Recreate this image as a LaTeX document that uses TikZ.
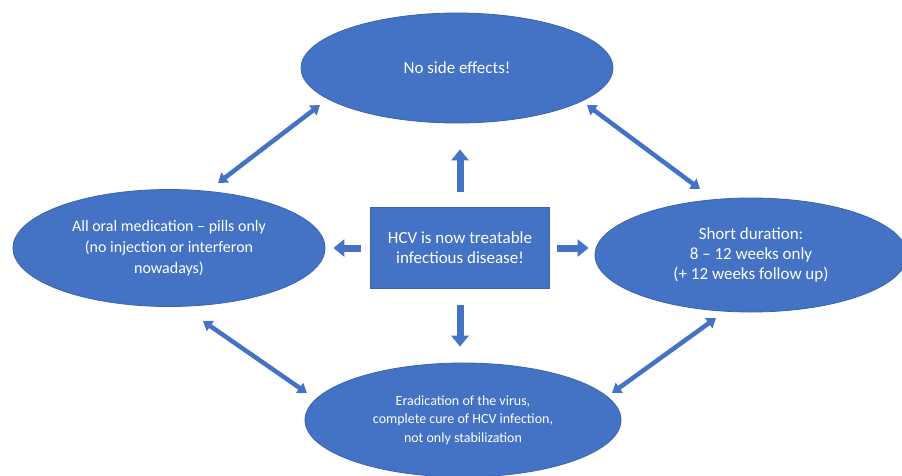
\documentclass[tikz,border=0pt]{standalone}
\usepackage{fontspec}
\setmainfont{Carlito}
\usetikzlibrary{shapes.geometric,arrows.meta}
\definecolor{hcvblue}{HTML}{4472C4}
\definecolor{hcvedge}{HTML}{3A64AE}
\tikzset{
  oval/.style={ellipse, fill=hcvblue, draw=hcvedge, line width=0.8pt, text=white, align=center, inner sep=0pt},
  centerbox/.style={rectangle, fill=hcvblue, draw=hcvedge, line width=0.8pt, text=white, align=center, inner sep=0pt},
  blockarrow/.style={draw=hcvblue, line width=7pt, -{Triangle[width=17pt,length=11pt]}},
  twoway/.style={draw=hcvblue, line width=4.5pt, {Triangle[width=12pt,length=9pt]}-{Triangle[width=12pt,length=9pt]}},
}
\begin{document}
\begin{tikzpicture}[x=1pt,y=-1pt]
\useasboundingbox (0,0) rectangle (902,475);
\node[oval, minimum width=312pt, minimum height=110pt, font=\fontsize{17}{21}\selectfont] (top) at (457,68) {No side effects!};
\node[oval, minimum width=312pt, minimum height=117pt, font=\fontsize{16}{21}\selectfont] (left) at (169,248) {All oral medication -- pills only\\(no injection or interferon\\nowadays)};
\node[oval, minimum width=312pt, minimum height=114pt, font=\fontsize{17}{20}\selectfont] (right) at (751,255) {Short duration:\\8 -- 12 weeks only\\(+ 12 weeks follow up)};
\node[oval, minimum width=316pt, minimum height=114pt, font=\fontsize{14}{18.5}\selectfont] (bottom) at (463,420) {Eradication of the virus,\\complete cure of HCV infection,\\not only stabilization};
\node[centerbox, minimum width=179pt, minimum height=81pt, font=\fontsize{17}{20}\selectfont] (hcv) at (460,248) {HCV is now treatable\\infectious disease!};

\draw[blockarrow, shorten <=15pt, shorten >=26pt] (hcv.north) -- (hcv.north |- top.south);
\draw[blockarrow, shorten <=16pt, shorten >=16pt] (hcv.south) -- (hcv.south |- bottom.north);
\draw[blockarrow, shorten <=9pt, shorten >=8pt] (hcv.west) -- (hcv.west -| left.east);
\draw[blockarrow, shorten <=7pt, shorten >=6pt] (hcv.east) -- (hcv.east -| right.west);

\coordinate (tlA) at (218,183);
\coordinate (tlB) at (320,105);
\coordinate (trA) at (587,105);
\coordinate (trB) at (700,189);
\coordinate (blA) at (203,321);
\coordinate (blB) at (307,393);
\coordinate (brA) at (612,393);
\coordinate (brB) at (716,318);
\draw[twoway] (tlA) -- (tlB);
\draw[twoway] (trA) -- (trB);
\draw[twoway] (blA) -- (blB);
\draw[twoway] (brA) -- (brB);
\end{tikzpicture}
\end{document}
